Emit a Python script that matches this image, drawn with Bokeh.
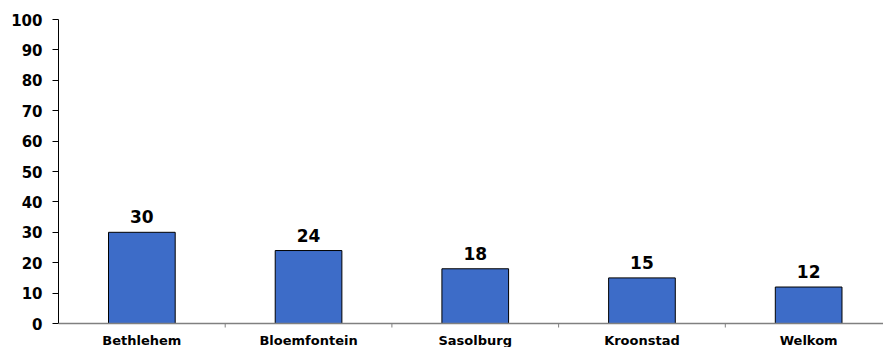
from bokeh.plotting import figure
from bokeh.models import ColumnDataSource, FixedTicker, Range1d, LabelSet, Span
from bokeh.core.properties import value
from bokeh.embed import file_html
from bokeh.resources import INLINE

categories = ["Bethlehem", "Bloemfontein", "Sasolburg", "Kroonstad", "Welkom"]
values = [30, 24, 18, 15, 12]
y_ticks = [0, 10, 20, 30, 40, 50, 60, 70, 80, 90, 100]

n = len(categories)
xs = [i + 0.5 for i in range(n)]
src = ColumnDataSource(dict(x=xs, top=values, zero=[0] * n,
                            label=[str(v) for v in values], cat=categories))

W, H = 883, 347
left, top_b = 58, 19
axis_y_px = 323                      # pixel row of y = 0
px_per_unit = (axis_y_px - top_b) / 100.0
y_start = -(H - axis_y_px) / px_per_unit
cat_px = 166.7
x_end = (W - left) / cat_px

p = figure(width=W, height=H, output_backend="svg", toolbar_location=None,
           x_range=Range1d(0, x_end), y_range=Range1d(y_start, 100),
           x_axis_location=None,
           min_border_left=left, min_border_right=0, min_border_top=top_b,
           min_border_bottom=0)
p.outline_line_color = None
p.xgrid.visible = False
p.ygrid.visible = False
p.background_fill_color = "white"
p.border_fill_color = "white"

p.vbar(x="x", top="top", width=0.4, bottom=0, source=src,
       fill_color="#3D6CC8", line_color="black", line_width=1)

# category axis line and divider ticks
p.add_layout(Span(location=0, dimension="width", line_color="#808080", line_width=1.5))
dividers = list(range(1, n))
tick_len = 4 / px_per_unit
p.segment(x0=dividers, y0=[0] * len(dividers), x1=dividers, y1=[-tick_len] * len(dividers),
          line_color="#808080", line_width=1)

labels = LabelSet(x="x", y="top", text="label", source=src, text_align="center",
                  text_baseline="bottom", y_offset=9, text_font=value("DejaVu Sans"),
                  text_font_style="bold", text_font_size="17px", text_color="black")
p.add_layout(labels)

cat_labels = LabelSet(x="x", y="zero", text="cat", source=src, text_align="center",
                      text_baseline="top", y_offset=-9, text_font=value("DejaVu Sans"),
                      text_font_style="bold", text_font_size="13px", text_color="black")
p.add_layout(cat_labels)

# y axis
p.yaxis.ticker = FixedTicker(ticks=y_ticks)
p.yaxis.bounds = (0, 100)
p.yaxis.minor_tick_line_color = None
p.yaxis.major_tick_out = 6
p.yaxis.major_tick_in = 0
p.yaxis.axis_line_color = "black"
p.yaxis.major_tick_line_color = "black"
p.yaxis.major_label_standoff = 10
p.yaxis.major_label_text_font = "DejaVu Sans"
p.yaxis.major_label_text_font_style = "bold"
p.yaxis.major_label_text_font_size = "15px"
p.yaxis.major_label_text_color = "black"

open("out.html", "w").write(file_html(p, INLINE))
